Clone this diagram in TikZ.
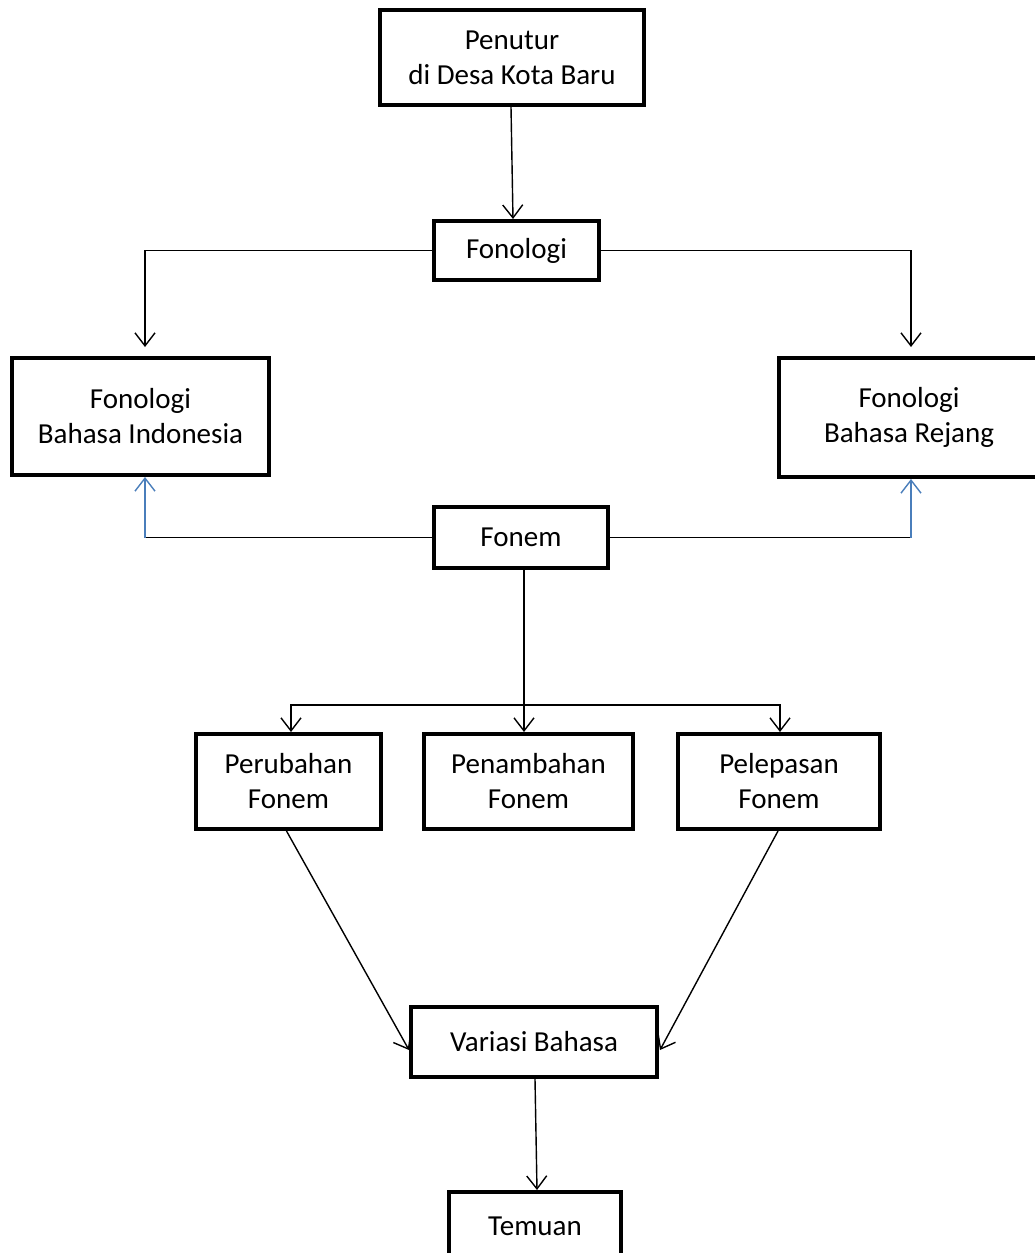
\documentclass[tikz,border=0pt]{standalone}
\usepackage{fontspec}
\setmainfont{Carlito}
\usetikzlibrary{arrows.meta,calc}
\definecolor{wordblue}{RGB}{74,126,187}
\begin{document}
\begin{tikzpicture}[x=1pt,y=-1pt,
  box/.style={draw,line width=4pt,inner sep=0pt,align=center,font=\fontsize{29}{35}\selectfont},
  conn/.style={line width=1.4pt,-{Straight Barb[length=13pt,width=20pt,line width=1.4pt]}},
  plain/.style={line width=1.4pt}]
\useasboundingbox (0,0) rectangle (1035,1253);
\clip (0,0) rectangle (1035,1253);
\node[box,minimum width=264,minimum height=95] (pen) at (512,57.5) {\raisebox{-2pt}{Penutur}\\\raisebox{-2pt}{di Desa Kota Baru}};
\node[box,minimum width=165,minimum height=59] (fon) at (516.5,250.5) {\raisebox{-2pt}{Fonologi}};
\node[box,minimum width=257,minimum height=117] (bi) at (140.5,416.5) {\raisebox{-2pt}{Fonologi}\\\raisebox{-2pt}{Bahasa Indonesia}};
\node[box,minimum width=260,minimum height=119] (br) at (909,417.5) {\raisebox{-2pt}{Fonologi}\\\raisebox{-2pt}{Bahasa Rejang}};
\node[box,minimum width=174,minimum height=61] (fonem) at (521,537.5) {\raisebox{-2pt}{Fonem}};
\node[box,minimum width=185,minimum height=95] (peru) at (288.5,781.5) {\raisebox{-2pt}{Perubahan}\\\raisebox{-2pt}{Fonem}};
\node[box,minimum width=209,minimum height=95] (pena) at (528.5,781.5) {\raisebox{-2pt}{Penambahan}\\\raisebox{-2pt}{Fonem}};
\node[box,minimum width=202,minimum height=95] (pele) at (779,781.5) {\raisebox{-2pt}{Pelepasan}\\\raisebox{-2pt}{Fonem}};
\node[box,minimum width=246,minimum height=70] (var) at (534,1042) {\raisebox{-2pt}{Variasi Bahasa}};
\node[box,minimum width=172,minimum height=68] (tem) at (535,1226) {\raisebox{-2pt}{Temuan}};

\draw[conn] ([xshift=-1pt]pen.south) -- ([xshift=-3.5pt]fon.north);
\draw[conn,shorten >=9pt] (fon.west) -| ([xshift=4.5pt]bi.north);
\draw[conn,shorten >=9pt] (fon.east) -| ([xshift=2pt]br.north);

\coordinate (jl) at ($(fonem.west -| bi.south)+(4.5,0)$);
\coordinate (jr) at ($(fonem.east -| br.south)+(2,0)$);
\draw[plain] (fonem.west) -- (jl);
\draw[plain] (fonem.east) -- (jr);
\draw[conn,wordblue] (jl) -- ([xshift=4.5pt]bi.south);
\draw[conn,wordblue] (jr) -- ([xshift=2pt]br.south);

\coordinate (split) at ($(fonem.south)+(3,135)$);
\draw[conn] ($(fonem.south)+(3,0)$) -- (split |- pena.north);
\draw[conn] (split) -| ([xshift=2.5pt]peru.north);
\draw[conn] (split) -| ([xshift=1pt]pele.north);

\draw[conn] ($(peru.south)+(-2,0)$) -- ($(var.west)+(0,8)$);
\draw[conn] ($(pele.south)+(-1,0)$) -- ($(var.east)+(1,8)$);
\draw[conn] ([xshift=1pt]var.south) -- ([xshift=2pt]tem.north);
\end{tikzpicture}
\end{document}
